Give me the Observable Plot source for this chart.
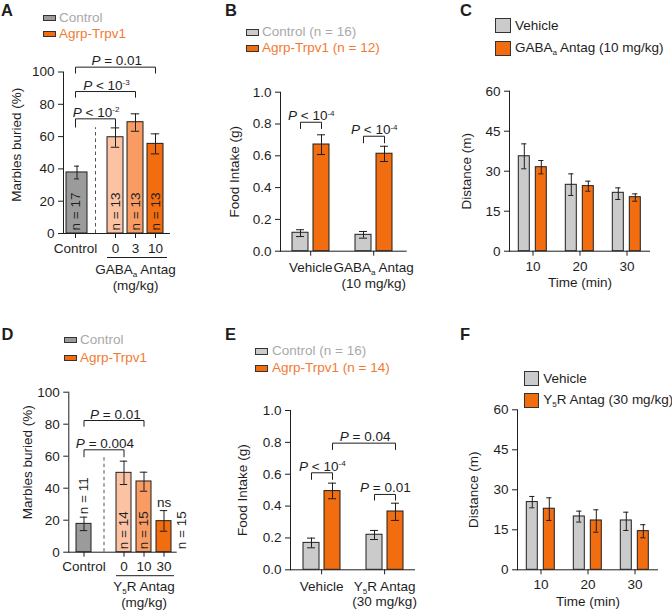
<!DOCTYPE html>
<html>
<head>
<meta charset="utf-8">
<script src="https://cdn.jsdelivr.net/npm/d3@7"></script>
<script src="https://cdn.jsdelivr.net/npm/@observablehq/plot@0.6"></script>
<style>
  body { margin: 0; background: #fff; }
  #fig { position: relative; width: 672px; height: 610px; font-family: "Liberation Sans", Arial, Helvetica, sans-serif; color: #1e1e1e; }
  #fig svg { position: absolute; left: 0; top: 0; }
  .lab { position: absolute; font-weight: bold; font-size: 16.5px; line-height: 16px; }
  .leg { position: absolute; font-size: 13.5px; line-height: 14px; white-space: nowrap; }
  .sw { position: absolute; box-sizing: border-box; border: 1px solid #333; }
  sub, sup { font-size: 0.6em; line-height: 0; }
  sub { vertical-align: -0.35em; }
  sup { vertical-align: 0.5em; }
</style>
</head>
<body>
<div id="fig"></div>
<script>
// ---------------- DATA ----------------
// Panel A: marble burying, GABAa antagonist dose
const A_cats = ["Control", "0", "3", "10"];
const A_mean = [37.8, 59.6, 68.9, 55.5];
const A_lo   = [33.8, 53.4, 63.3, 49.3];
const A_hi   = [41.7, 65.4, 74.1, 61.7];
const A_n    = ["n = 17", "n = 13", "n = 13", "n = 13"];
const A_yTicks = [0, 20, 40, 60, 80, 100];
const A_yLabel = "Marbles buried (%)";
const A_group = "GABA_{a} Antag\n(mg/kg)";
const A_cmpFrom = ["Control", "Control", "Control"];
const A_cmpTo   = ["0", "3", "10"];
const A_cmpY    = [71, 87.9, 103];
const A_cmpLeg  = [5.4, 3.8, 3.9];
const A_cmpText = ["*P* < 10^{-2}", "*P* < 10^{-3}", "*P* = 0.01"];
const A_divTop = 65.5;
const A_legend = ["Control", "Agrp-Trpv1"];

// Panel B: food intake, GABAa antagonist
const B_groups = ["Vehicle", "GABA_{a} Antag\n(10 mg/kg)"];
const B_ctrlMean = [0.116, 0.103];
const B_ctrlLo   = [0.092, 0.082];
const B_ctrlHi   = [0.135, 0.124];
const B_trpMean  = [0.671, 0.613];
const B_trpLo    = [0.608, 0.564];
const B_trpHi    = [0.732, 0.660];
const B_yTicks = [0, 0.2, 0.4, 0.6, 0.8, 1.0];
const B_yLabel = "Food Intake (g)";
const B_cmpFrom = ["0|0", "1|0"];
const B_cmpTo   = ["0|1", "1|1"];
const B_cmpY    = [0.811, 0.723];
const B_cmpLeg  = [0.042, 0.044];
const B_cmpText = ["*P* < 10^{-4}", "*P* < 10^{-4}"];
const B_legend = ["Control (n = 16)", "Agrp-Trpv1 (n = 12)"];

// Panel C: locomotion, GABAa antagonist
const C_times = ["10", "20", "30"];
const C_vehMean  = [35.6, 24.9, 21.9];
const C_vehLo    = [30.9, 20.9, 19.4];
const C_vehHi    = [40.25, 29.0, 23.75];
const C_drugMean = [31.5, 24.4, 20.25];
const C_drugLo   = [29.0, 22.5, 18.75];
const C_drugHi   = [34.0, 26.25, 21.5];
const C_yTicks = [0, 15, 30, 45, 60];
const C_yLabel = "Distance (m)";
const C_xLabel = "Time (min)";
const C_legend = ["Vehicle", "GABA_{a} Antag (10 mg/kg)"];

// Panel D: marble burying, Y5R antagonist dose
const D_cats = ["Control", "0", "10", "30"];
const D_mean = [17.7, 49.6, 44.2, 19.4];
const D_lo   = [13.5, 42.3, 38.1, 13.1];
const D_hi   = [21.9, 56.9, 50.0, 26.0];
const D_n    = ["n = 11", "n = 14", "n = 15", "n = 15"];
const D_yTicks = [0, 20, 40, 60, 80, 100];
const D_yLabel = "Marbles buried (%)";
const D_group = "Y_{5}R Antag\n(mg/kg)";
const D_cmpFrom = ["Control", "Control"];
const D_cmpTo   = ["0", "10"];
const D_cmpY    = [64, 82.3];
const D_cmpLeg  = [4.6, 3.8];
const D_cmpText = ["*P* = 0.004", "*P* = 0.01"];
const D_ns = "ns";
const D_divTop = 60.4;
const D_legend = ["Control", "Agrp-Trpv1"];

// Panel E: food intake, Y5R antagonist
const E_groups = ["Vehicle", "Y_{5}R Antag\n(30 mg/kg)"];
const E_ctrlMean = [0.169, 0.220];
const E_ctrlLo   = [0.138, 0.190];
const E_ctrlHi   = [0.199, 0.247];
const E_trpMean  = [0.494, 0.366];
const E_trpLo    = [0.446, 0.310];
const E_trpHi    = [0.544, 0.418];
const E_yTicks = [0, 0.2, 0.4, 0.6, 0.8, 1.0];
const E_yLabel = "Food Intake (g)";
const E_cmpFrom = ["0|0", "0|1", "1|0"];
const E_cmpTo   = ["0|1", "1|1", "1|1"];
const E_cmpY    = [0.609, 0.795, 0.473];
const E_cmpLeg  = [0.044, 0.042, 0.038];
const E_cmpText = ["*P* < 10^{-4}", "*P* = 0.04", "*P* = 0.01"];
const E_legend = ["Control (n = 16)", "Agrp-Trpv1 (n = 14)"];

// Panel F: locomotion, Y5R antagonist
const F_times = ["10", "20", "30"];
const F_vehMean  = [25.4, 20.0, 18.5];
const F_vehLo    = [23.25, 17.9, 14.75];
const F_vehHi    = [27.5, 22.0, 21.6];
const F_drugMean = [22.9, 18.5, 14.5];
const F_drugLo   = [18.5, 14.1, 12.0];
const F_drugHi   = [27.0, 22.5, 16.9];
const F_yTicks = [0, 15, 30, 45, 60];
const F_yLabel = "Distance (m)";
const F_xLabel = "Time (min)";
const F_legend = ["Vehicle", "Y_{5}R Antag (30 mg/kg)"];

// ---------------- STYLE ----------------
const W = 672, H = 610;
const FONT = '"Liberation Sans", Arial, Helvetica, sans-serif';
const FS = "13.5px";
const INK = "#1e1e1e";
const GRAY_DARK = "#9b9b9b", GRAY_LIGHT = "#cbcbcb";
const OR_DARK = "#f26c10", OR_MID = "#f89c63", OR_LIGHT = "#fbc3a3";
const TXT_GRAY = "#a9a9a9", TXT_OR = "#f47a33";
const DOSE_FILLS = [GRAY_DARK, OR_LIGHT, OR_MID, OR_DARK];
const SUP = 4.5, SUB = 3;
const GAP = "\u00a0gap";

const fig = document.getElementById("fig");

function base(frame, opts) {
  const [L, R, T, B] = frame;
  return Plot.plot({
    width: W, height: H,
    marginLeft: L, marginRight: W - R, marginTop: T, marginBottom: H - B,
    style: {background: "transparent", overflow: "visible", fontFamily: FONT, fontSize: FS, color: INK},
    color: {type: "identity"},
    ...opts
  });
}
function yScale(domain, ticks, label, labelOffset, fmt) {
  return {domain, ticks, tickSize: 5, tickPadding: 4, line: true, label, labelAnchor: "center",
          labelOffset, labelArrow: "none", tickFormat: fmt};
}
// rotated y-axis title placed as a text mark (allows a small vertical shift)
function yTitle(label, offset, shift) {
  return Plot.text([label], {frameAnchor: "left", rotate: -90, lineAnchor: "top", textAnchor: "middle", text: d => d,
    dx: -offset, dy: shift, fill: INK});
}
function stepOf(range, n, pi) { return (range[1] - range[0]) / (n - pi); }
function bracketMarks(from, to, ys, legs, texts, domain, step) {
  const segs = [];
  from.forEach((f, i) => {
    const t = to[i], y = ys[i], l = legs[i];
    segs.push({x1: f, y1: y - l, x2: f, y2: y});
    segs.push({x1: f, y1: y, x2: t, y2: y});
    segs.push({x1: t, y1: y, x2: t, y2: y - l});
  });
  const marks = [Plot.link(segs, {x1: "x1", y1: "y1", x2: "x2", y2: "y2", stroke: INK, strokeWidth: 1})];
  from.forEach((f, i) => {
    const off = (domain.indexOf(to[i]) - domain.indexOf(f)) * step / 2;
    marks.push(Plot.text([texts[i]], {x: () => f, y: () => ys[i], text: d => d, dx: off,
      dy: -2, lineAnchor: "bottom", fill: INK}));
  });
  return marks;
}
function errMarks(rows, capInset, extra = {}) {
  return [
    Plot.ruleX(rows, {x: "key", y1: "lo", y2: "hi", stroke: INK, strokeWidth: 1, ...extra}),
    Plot.tickY(rows, {x: "key", y: "hi", stroke: INK, strokeWidth: 1, insetLeft: capInset, insetRight: capInset, ...extra}),
    Plot.tickY(rows, {x: "key", y: "lo", stroke: INK, strokeWidth: 1, insetLeft: capInset, insetRight: capInset, ...extra})
  ];
}

// ---------------- PANEL A ----------------
{
  const rows = A_cats.map((k, i) => ({key: k, mean: A_mean[i], lo: A_lo[i], hi: A_hi[i], fill: DOSE_FILLS[i], n: A_n[i]}));
  const domain = [A_cats[0], GAP, ...A_cats.slice(1)];
  const range = [65.5, 164.5], pi = 0.205, step = stepOf(range, domain.length, pi);
  fig.append(base([63, 170, 71.5, 233], {
    x: {type: "band", domain, range, paddingInner: pi, paddingOuter: 0, align: 0.5, ticks: A_cats,
        tickSize: 5, tickPadding: 5, label: null},
    y: yScale([0, 100], A_yTicks, null, 0),
    marks: [
      yTitle(A_yLabel, 52, -8),
      Plot.ruleY([0], {stroke: INK}),
      Plot.barY(rows.slice(0, 1), {x: "key", y: "mean", fill: "fill", stroke: INK, strokeWidth: 1, insetLeft: -1, insetRight: -4}),
      Plot.barY(rows.slice(1), {x: "key", y: "mean", fill: "fill", stroke: INK, strokeWidth: 1}),
      ...errMarks(rows.slice(0, 1), 5.5, {dx: 1.5}),
      ...errMarks(rows.slice(1), 3.8),
      Plot.text(rows, {x: "key", y: 0, text: "n", rotate: -90, textAnchor: "start", lineAnchor: "middle", dy: -3, fill: INK}),
      Plot.ruleX([GAP], {x: d => d, y1: 0, y2: A_divTop, stroke: "#555", strokeDasharray: "3.5,3"}),
      Plot.ruleY([0], {x1: () => A_cats[1], x2: () => A_cats[3], dy: 24, stroke: INK, insetRight: -4}),
      Plot.text([A_group], {x: () => A_cats[2], y: 0, text: d => d, lineAnchor: "top", dy: 28.5, lineHeight: 1.2, fill: INK}),
      ...bracketMarks(A_cmpFrom, A_cmpTo, A_cmpY, A_cmpLeg, A_cmpText, domain, step)
    ]
  }));
}

// ---------------- PANEL D ----------------
{
  const rows = D_cats.map((k, i) => ({key: k, mean: D_mean[i], lo: D_lo[i], hi: D_hi[i], fill: DOSE_FILLS[i], n: D_n[i]}));
  const domain = [D_cats[0], GAP, ...D_cats.slice(1)];
  const range = [74, 174], pi = 0.23, step = stepOf(range, domain.length, pi);
  fig.append(base([68.3, 176.7, 391.7, 551.7], {
    x: {type: "band", domain, range, paddingInner: pi, paddingOuter: 0, align: 0.5, ticks: D_cats,
        tickSize: 5, tickPadding: 4, label: null},
    y: yScale([0, 100], D_yTicks, null, 0),
    marks: [
      yTitle(D_yLabel, 46, -10),
      Plot.ruleY([0], {stroke: INK}),
      Plot.barY(rows, {x: "key", y: "mean", fill: "fill", stroke: INK, strokeWidth: 1}),
      ...errMarks(rows, 3.8),
      // n labels: control above its error bar, two inside bars, last to the right of its bar
      Plot.text(rows.slice(0, 1), {x: "key", y: "hi", text: "n", rotate: -90, textAnchor: "start", lineAnchor: "middle", dy: -3, fill: INK}),
      Plot.text(rows.slice(1, 3), {x: "key", y: 0, text: "n", rotate: -90, textAnchor: "start", lineAnchor: "middle", dy: -3, fill: INK}),
      Plot.text(rows.slice(3), {x: "key", y: 0, text: "n", rotate: -90, textAnchor: "start", lineAnchor: "middle", dx: 18, dy: -3, fill: INK}),
      Plot.text([D_ns], {x: () => D_cats[3], y: () => D_hi[3], text: d => d, lineAnchor: "bottom", dy: -4, fill: INK}),
      Plot.ruleX([GAP], {x: d => d, y1: 0, y2: D_divTop, stroke: "#555", strokeDasharray: "3.5,3"}),
      Plot.ruleY([0], {x1: () => D_cats[1], x2: () => D_cats[3], dy: 23.5, stroke: INK, insetRight: -3}),
      Plot.text([D_group], {x: () => D_cats[2], y: 0, text: d => d, lineAnchor: "top", dy: 28, lineHeight: 1.16, fill: INK}),
      ...bracketMarks(D_cmpFrom, D_cmpTo, D_cmpY, D_cmpLeg, D_cmpText, domain, step)
    ]
  }));
}

// ---------------- PANELS B / E ----------------
function foodPanel(frame, range, pi, groups, cm, cl, ch, tm, tl, th, yTicks, yLabel, labelOffset, cf, ct, cy, cleg, ctext) {
  const rows = [];
  groups.forEach((g, gi) => {
    rows.push({key: gi + "|0", mean: cm[gi], lo: cl[gi], hi: ch[gi], fill: GRAY_LIGHT});
    rows.push({key: gi + "|1", mean: tm[gi], lo: tl[gi], hi: th[gi], fill: OR_DARK});
  });
  const domain = ["0|0", "0|1", GAP, "1|0", "1|1"];
  const step = stepOf(range, domain.length, pi);
  return base(frame, {
    x: {type: "band", domain, range, paddingInner: pi, paddingOuter: 0, align: 0.5, label: null, axis: null},
    y: yScale([0, 1], yTicks, yLabel, labelOffset, d3.format(".1f")),
    marks: [
      Plot.ruleY([0], {stroke: INK}),
      Plot.axisX(["0|1", "1|1"], {tickFormat: d => groups[+d.split("|")[0]], dx: -step / 2, tickSize: 5, tickPadding: 5,
        lineHeight: 1.15, label: null}),
      Plot.barY(rows, {x: "key", y: "mean", fill: "fill", stroke: INK, strokeWidth: 1}),
      ...errMarks(rows, 4),
      ...bracketMarks(cf, ct, cy, cleg, ctext, domain, step)
    ]
  });
}
fig.append(foodPanel([280, 406.7, 91.7, 250.7], [291.1, 393.6], 0.25, B_groups,
  B_ctrlMean, B_ctrlLo, B_ctrlHi, B_trpMean, B_trpLo, B_trpHi, B_yTicks, B_yLabel, 51,
  B_cmpFrom, B_cmpTo, B_cmpY, B_cmpLeg, B_cmpText));
fig.append(foodPanel([290, 415, 410, 569.3], [300.85, 404], 0.26, E_groups,
  E_ctrlMean, E_ctrlLo, E_ctrlHi, E_trpMean, E_trpLo, E_trpHi, E_yTicks, E_yLabel, 53,
  E_cmpFrom, E_cmpTo, E_cmpY, E_cmpLeg, E_cmpText));

// ---------------- PANELS C / F ----------------
function distPanel(frame, times, vm, vl, vh, dm, dl, dh, yTicks, yLabel, labelOffset, xLabel) {
  const rows = [];
  times.forEach((t, ti) => {
    rows.push({time: t, key: "veh", mean: vm[ti], lo: vl[ti], hi: vh[ti], fill: GRAY_LIGHT});
    rows.push({time: t, key: "drug", mean: dm[ti], lo: dl[ti], hi: dh[ti], fill: OR_DARK});
  });
  return base(frame, {
    fx: {domain: times, padding: 0, axis: "bottom", tickSize: 5, tickPadding: 5, label: null},
    x: {domain: ["veh", "drug"], paddingInner: 0.34, paddingOuter: 0.5, axis: null, label: null},
    y: yScale([0, 60], yTicks, yLabel, labelOffset),
    marks: [
      Plot.ruleY([0], {stroke: INK}),
      Plot.barY(rows, {fx: "time", x: "key", y: "mean", fill: "fill", stroke: INK, strokeWidth: 1}),
      ...errMarks(rows, 2.9, {fx: "time"}),
      Plot.text([xLabel], {fx: () => times[1], frameAnchor: "bottom", text: d => d, lineAnchor: "top", dy: 26.5, fill: INK})
    ]
  });
}
fig.append(distPanel([507.7, 650.7, 90.7, 250.7], C_times, C_vehMean, C_vehLo, C_vehHi, C_drugMean, C_drugLo, C_drugHi,
  C_yTicks, C_yLabel, 48.5, C_xLabel));
fig.append(distPanel([516.7, 658.3, 409.3, 569.3], F_times, F_vehMean, F_vehLo, F_vehHi, F_drugMean, F_drugLo, F_drugHi,
  F_yTicks, F_yLabel, 49.5, F_xLabel));

// ---------------- TEXT MARKUP (italic, sub/superscripts) ----------------
function parseMarkup(s) {
  const segs = []; let buf = "", it = false, i = 0;
  const flush = () => { if (buf) segs.push({t: buf, it, sh: 0}); buf = ""; };
  while (i < s.length) {
    const ch = s[i];
    if (ch === "*") { flush(); it = !it; i++; continue; }
    if ((ch === "^" || ch === "_") && s[i + 1] === "{") {
      flush();
      const j = s.indexOf("}", i + 2);
      segs.push({t: s.slice(i + 2, j), it, sh: ch === "^" ? 1 : -1});
      i = j + 1; continue;
    }
    buf += ch; i++;
  }
  flush();
  return segs;
}
const hasMarkup = s => /\*|[\^_]\{/.test(s);
function fixSvgText(svg) {
  const walker = document.createTreeWalker(svg, NodeFilter.SHOW_TEXT);
  const nodes = [];
  while (walker.nextNode()) nodes.push(walker.currentNode);
  for (const node of nodes) {
    if (!hasMarkup(node.data)) continue;
    const frag = document.createDocumentFragment();
    let cur = 0;
    for (const seg of parseMarkup(node.data)) {
      const ts = document.createElementNS("http://www.w3.org/2000/svg", "tspan");
      ts.textContent = seg.t;
      const target = seg.sh === 1 ? -SUP : seg.sh === -1 ? SUB : 0;
      if (target !== cur) { ts.setAttribute("dy", target - cur); cur = target; }
      if (seg.it) ts.setAttribute("font-style", "italic");
      if (seg.sh) ts.setAttribute("font-size", "0.6em");
      frag.appendChild(ts);
    }
    node.parentNode.replaceChild(frag, node);
  }
}
fig.querySelectorAll("svg").forEach(fixSvgText);
const toHTML = s => s.replace(/\*([^*]+)\*/g, "<i>$1</i>").replace(/\^\{([^}]*)\}/g, "<sup>$1</sup>").replace(/_\{([^}]*)\}/g, "<sub>$1</sub>");

// ---------------- LEGENDS & PANEL LETTERS ----------------
function legend(labels, fills, colors, sx, sw, sh, cys, tx) {
  labels.forEach((lab, i) => {
    const s = document.createElement("div");
    s.className = "sw";
    Object.assign(s.style, {left: sx + "px", top: (cys[i] - sh / 2) + "px", width: sw + "px", height: sh + "px", background: fills[i]});
    fig.append(s);
    const t = document.createElement("div");
    t.className = "leg";
    Object.assign(t.style, {left: tx + "px", top: (cys[i] - 7) + "px", color: colors[i]});
    t.innerHTML = toHTML(lab);
    fig.append(t);
  });
}
legend(A_legend, [GRAY_DARK, OR_DARK], [TXT_GRAY, TXT_OR], 43, 13, 6, [18, 34], 59);
legend(B_legend, [GRAY_LIGHT, OR_DARK], [TXT_GRAY, TXT_OR], 246, 13, 7, [32, 48.3], 262);
legend(C_legend, [GRAY_LIGHT, OR_DARK], [INK, INK], 495, 15.5, 15, [25.8, 48], 515);
legend(D_legend, [GRAY_DARK, OR_DARK], [TXT_GRAY, TXT_OR], 64.3, 13, 6, [340.3, 357.5], 80);
legend(E_legend, [GRAY_LIGHT, OR_DARK], [TXT_GRAY, TXT_OR], 255, 13, 7, [351, 368.3], 272);
legend(F_legend, [GRAY_LIGHT, OR_DARK], [INK, INK], 524, 15, 15, [378.5, 400], 543.3);

const letters = ["A", "B", "C", "D", "E", "F"];
const letterX = [1, 225, 460, 1.5, 225, 460];
const letterY = [2, 2, 2, 326, 326, 326];
letters.forEach((L, i) => {
  const d = document.createElement("div");
  d.className = "lab";
  d.style.left = letterX[i] + "px";
  d.style.top = letterY[i] + "px";
  d.textContent = L;
  fig.append(d);
});
</script>
</body>
</html>
